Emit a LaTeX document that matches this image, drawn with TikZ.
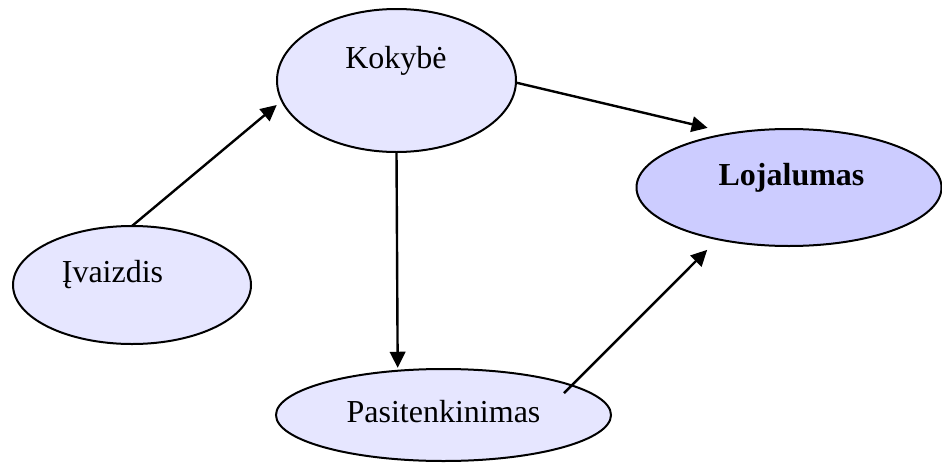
\documentclass[tikz,border=0pt]{standalone}
\usepackage{fontspec}
\setmainfont{Liberation Serif}
\usetikzlibrary{shapes.geometric,arrows.meta}
\definecolor{bubblefill}{RGB}{230,230,255}
\definecolor{keyfill}{RGB}{204,204,255}
\begin{document}
\begin{tikzpicture}[x=1pt,y=-1pt,
  bubble/.style={ellipse, draw=black, line width=2pt, inner sep=0pt, outer sep=0pt, fill=bubblefill},
  txt/.style={font=\fontsize{32}{38}\selectfont, anchor=base, inner sep=0pt},
  link/.style={line width=2.4pt, -{Triangle[length=16pt,width=15.5pt]}}]
\useasboundingbox (0,0) rectangle (942,463);

% ellipses
\node[bubble, minimum width=239pt, minimum height=143pt] (kok) at (396.5,80.5) {};
\node[bubble, fill=keyfill, minimum width=305pt, minimum height=117pt] (loj) at (789,187.5) {};
\node[bubble, minimum width=238pt, minimum height=118pt] (ivz) at (132,285) {};
\node[bubble, minimum width=335pt, minimum height=92pt] (pas) at (443.5,415) {};

% captions
\node[txt] (kokT) at (396,68) {Kokybė};
\node[txt, font=\fontsize{32}{38}\selectfont\bfseries] (lojT) at (791.5,185) {Lojalumas};
\node[txt] (ivzT) at (112.5,282) {Įvaizdis};
\node[txt] (pasT) at (443.5,422) {Pasitenkinimas};

% connectors
\draw[link, shorten >=6.7pt] (ivz.north) -- (kok.190);
\draw[link, shorten >=24pt] (kok.-1) -- (loj.137.5);
\draw[link, shorten >=3pt] (kok.south) -- (pas.136.8);
\draw[link, shorten <=-11pt, shorten >=15pt] (pas.13.2) -- (loj.216.4);
\end{tikzpicture}
\end{document}
